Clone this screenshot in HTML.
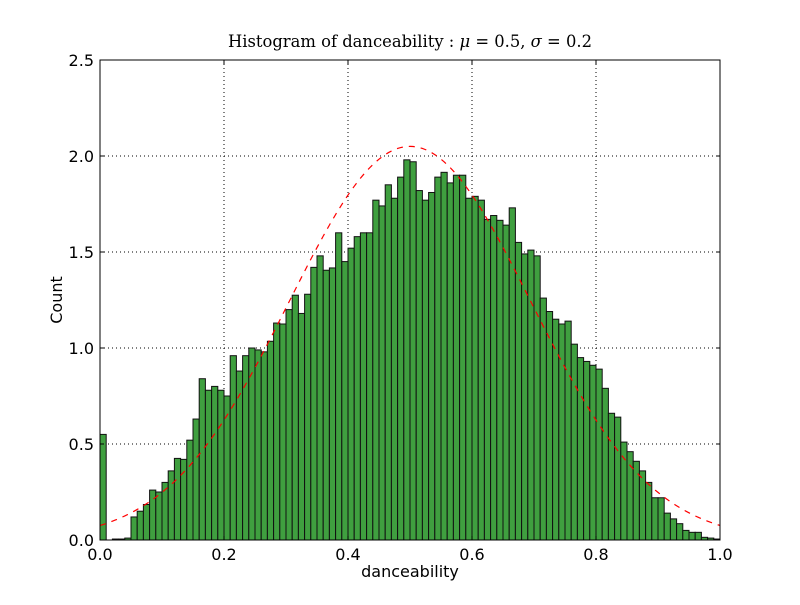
<!DOCTYPE html>
<html><head><meta charset="utf-8"><style>
body{margin:0;background:#fff;}
svg text{font-family:"DejaVu Sans","Liberation Sans",sans-serif;}
</style></head><body>
<svg id="chart" width="800" height="600" xmlns="http://www.w3.org/2000/svg">
<rect width="800" height="600" fill="#fff"/>
<text x="410" y="47" text-anchor="middle" font-size="17" textLength="364" lengthAdjust="spacingAndGlyphs" style="font-family:'DejaVu Serif','Liberation Serif',serif">Histogram of danceability : <tspan font-style="italic">μ</tspan> = 0.5, <tspan font-style="italic">σ</tspan> = 0.2</text>
<g id="grid"></g>
<g id="bars"></g>
<path id="curve" fill="none" stroke="#ff0000" stroke-width="1.2" stroke-dasharray="6,6"/>
<rect x="100" y="60" width="620" height="480" fill="none" stroke="#000" stroke-width="1"/>
<g id="ticks"></g>
<text x="410" y="577" text-anchor="middle" font-size="16">danceability</text>
<text x="62" y="300" text-anchor="middle" font-size="16" transform="rotate(-90 62 300)">Count</text>
</svg>
<script>
const binValues = [0.55,0,0.005,0.005,0.01,0.12,0.15,0.185,0.26,0.25,
0.30,0.36,0.425,0.42,0.52,0.63,0.84,0.78,0.80,0.78,
0.75,0.96,0.88,0.96,1.00,0.99,0.98,1.035,1.13,1.125,
1.20,1.275,1.18,1.28,1.42,1.48,1.405,1.417,1.60,1.45,
1.52,1.58,1.60,1.60,1.77,1.74,1.85,1.78,1.89,1.98,
1.97,1.82,1.77,1.81,1.89,1.915,1.86,1.90,1.90,1.78,
1.79,1.77,1.67,1.69,1.665,1.64,1.73,1.55,1.49,1.51,
1.48,1.26,1.19,1.15,1.125,1.14,1.02,0.95,0.93,0.91,
0.89,0.79,0.66,0.64,0.51,0.46,0.41,0.36,0.30,0.22,
0.22,0.14,0.11,0.085,0.05,0.04,0.04,0.014,0.01,0.005];
const binStart = 0, binWidth = 0.01;
const mu = 0.5, sigma = 0.1946;
const xTicks = [0,0.2,0.4,0.6,0.8,1.0];
const xTickLabels = ["0.0","0.2","0.4","0.6","0.8","1.0"];
const yTicks = [0,0.5,1.0,1.5,2.0,2.5];
const yTickLabels = ["0.0","0.5","1.0","1.5","2.0","2.5"];

const NS="http://www.w3.org/2000/svg";
const X0=100,X1=720,Y0=540,Y1=60;
const sx=v=>X0+(v-0)/(1-0)*(X1-X0);
const sy=v=>Y0-(v-0)/(2.5-0)*(Y0-Y1);
function mk(tag,attrs,parent){const e=document.createElementNS(NS,tag);for(const k in attrs)e.setAttribute(k,attrs[k]);parent.appendChild(e);return e;}
const grid=document.getElementById('grid'),bars=document.getElementById('bars'),ticks=document.getElementById('ticks');
xTicks.forEach((t,i)=>{
  const x=sx(t);
  if(i>0&&i<xTicks.length-1){const g=mk('line',{x1:x,x2:x,y1:Y1,y2:Y0,stroke:'#000','stroke-width':1,'stroke-dasharray':'1,3'},grid);
  
  }
  const a=mk('line',{x1:x,x2:x,y1:Y0,y2:Y0-4,stroke:'#000'},ticks);
  
  
  mk('line',{x1:x,x2:x,y1:Y1,y2:Y1+4,stroke:'#000'},ticks);
  const l=mk('text',{x:x,y:Y0+20,'text-anchor':'middle','font-size':16},ticks);l.textContent=xTickLabels[i];
  
  
});
yTicks.forEach((t,i)=>{
  const y=sy(t);
  if(i>0&&i<yTicks.length-1){const g=mk('line',{x1:X0,x2:X1,y1:y,y2:y,stroke:'#000','stroke-width':1,'stroke-dasharray':'1,3'},grid);
  
  }
  const a=mk('line',{x1:X0,x2:X0+4,y1:y,y2:y,stroke:'#000'},ticks);
  
  
  mk('line',{x1:X1,x2:X1-4,y1:y,y2:y,stroke:'#000'},ticks);
  const l=mk('text',{x:X0-6,y:y+6,'text-anchor':'end','font-size':16},ticks);l.textContent=yTickLabels[i];
  
  
});
binValues.forEach((v,i)=>{
  const xa=sx(binStart+i*binWidth),xb=sx(binStart+(i+1)*binWidth);
  const r=mk('rect',{x:xa,y:sy(v),width:xb-xa,height:Y0-sy(v),fill:'#3f9f3f',stroke:'#111','stroke-width':1},bars);
  
  
});
let d='';
for(let i=0;i<=200;i++){const x=i/200;const y=Math.exp(-((x-mu)**2)/(2*sigma*sigma))/(sigma*Math.sqrt(2*Math.PI));d+=(i?'L':'M')+sx(x).toFixed(2)+','+sy(y).toFixed(2);}
document.getElementById('curve').setAttribute('d',d);
</script>
</body></html>
